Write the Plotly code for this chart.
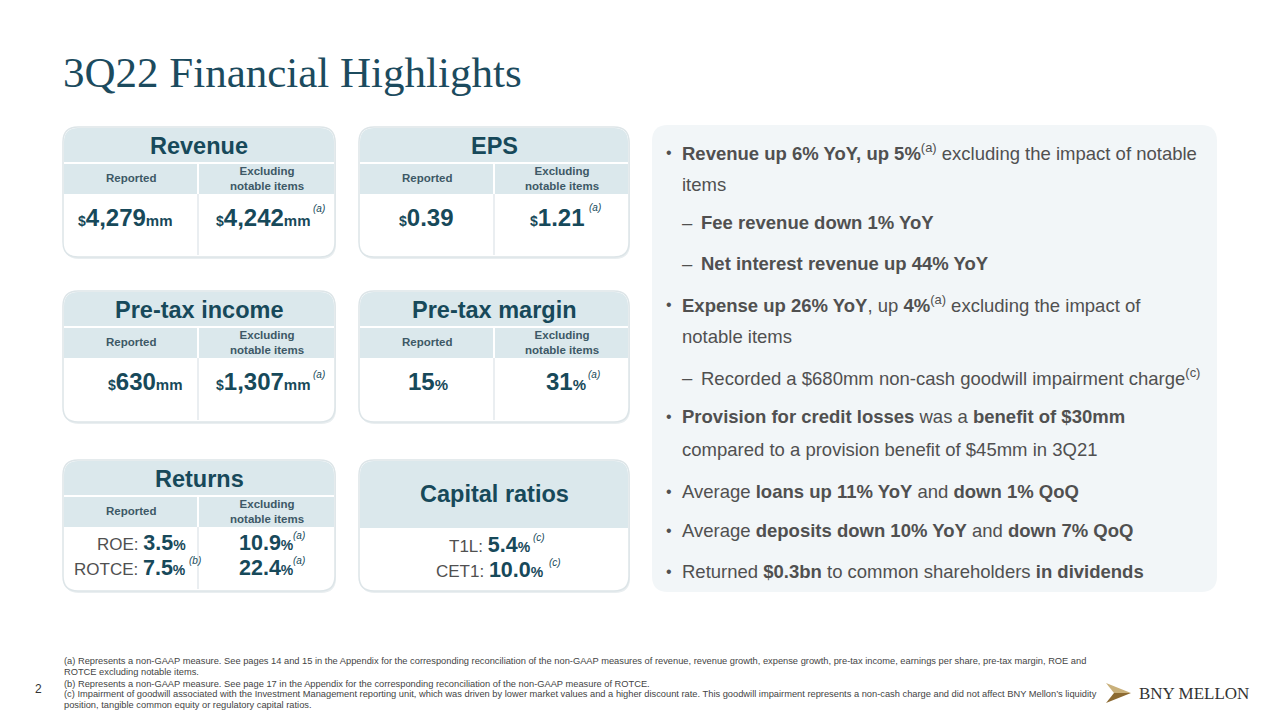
import plotly.graph_objects as go

# ---------------- data ----------------
slide_title = "3Q22 Financial Highlights"
card_titles = ["Revenue", "EPS", "Pre-tax income", "Pre-tax margin"]
value_prefix = ["$", "$", "$", ""]
value_suffix = ["mm", "", "mm", "%"]
reported_values = ["4,279", "0.39", "630", "15"]
excluding_values = ["4,242", "1.21", "1,307", "31"]
excluding_notes = ["(a)", "(a)", "(a)", "(a)"]
col_headers = ["Reported", "Excluding<br>notable items"]

returns_title = "Returns"
returns_labels = ["ROE:", "ROTCE:"]
returns_reported = ["3.5", "7.5"]
returns_reported_notes = ["", "(b)"]
returns_excluding = ["10.9", "22.4"]
returns_excluding_notes = ["(a)", "(a)"]

capital_title = "Capital ratios"
capital_labels = ["T1L:", "CET1:"]
capital_values = ["5.4", "10.0"]
capital_notes = ["(c)", "(c)"]

bullet_lines = [
    ("•", "<b>Revenue up 6% YoY, up 5%</b><sup>(a)</sup> excluding the impact of notable"),
    ("", "items"),
    ("–", "<b>Fee revenue down 1% YoY</b>"),
    ("–", "<b>Net interest revenue up 44% YoY</b>"),
    ("•", "<b>Expense up 26% YoY</b>, up <b>4%</b><sup>(a)</sup> excluding the impact of"),
    ("", "notable items"),
    ("–", "Recorded a $680mm non-cash goodwill impairment charge<sup>(c)</sup>"),
    ("•", "<b>Provision for credit losses</b> was a <b>benefit of $30mm</b>"),
    ("", "compared to a provision benefit of $45mm in 3Q21"),
    ("•", "Average <b>loans up 11% YoY</b> and <b>down 1% QoQ</b>"),
    ("•", "Average <b>deposits down 10% YoY</b> and <b>down 7% QoQ</b>"),
    ("•", "Returned <b>$0.3bn</b> to common shareholders <b>in dividends</b>"),
]

footnotes = [
    "(a) Represents a non-GAAP measure. See pages 14 and 15 in the Appendix for the corresponding reconciliation of the non-GAAP measures of revenue, revenue growth, expense growth, pre-tax income, earnings per share, pre-tax margin, ROE and",
    "ROTCE excluding notable items.",
    "(b) Represents a non-GAAP measure. See page 17 in the Appendix for the corresponding reconciliation of the non-GAAP measure of ROTCE.",
    "(c) Impairment of goodwill associated with the Investment Management reporting unit, which was driven by lower market values and a higher discount rate. This goodwill impairment represents a non-cash charge and did not affect BNY Mellon’s liquidity",
    "position, tangible common equity or regulatory capital ratios.",
]
page_number = "2"
brand = "BNY MELLON"

# ---------------- style / layout ----------------
TEAL = "#17495a"
HEAD = "#dbe8ec"
SUBTXT = "#3d5866"
GRAY = "#505050"
SANS = "Liberation Sans, Arial, sans-serif"
SERIF = "Liberation Serif, Times New Roman, serif"
BIG = 24
SMALL = 15
RBIG = 21.5
TITLE_SIZE = 23.5
SUB_SIZE = 11.5
BULLET_SIZE = 18.5

shapes = []
annotations = []


def rr_path(x0, y0, x1, y1, r, top=True, bottom=True):
    rt = r if top else 0
    rb = r if bottom else 0
    p = f"M {x0+rt},{y0} L {x1-rt},{y0} "
    p += f"Q {x1},{y0} {x1},{y0+rt} " if rt else ""
    p += f"L {x1},{y1-rb} "
    p += f"Q {x1},{y1} {x1-rb},{y1} " if rb else ""
    p += f"L {x0+rb},{y1} "
    p += f"Q {x0},{y1} {x0},{y1-rb} " if rb else ""
    p += f"L {x0},{y0+rt} "
    p += f"Q {x0},{y0} {x0+rt},{y0} " if rt else ""
    return p + "Z"


def add_shape(path, fill, line=None, width=0):
    shapes.append(dict(type="path", path=path, xref="x", yref="y", fillcolor=fill,
                       line=dict(color=line or fill, width=width), layer="below"))


def text(x, y, s, size, color, family=SANS, xa="center", ya="middle"):
    annotations.append(dict(x=x, y=y, xref="x", yref="y", text=s, showarrow=False,
                            xanchor=xa, yanchor=ya,
                            font=dict(size=size, color=color, family=family)))


def card_frame(x0, y0, x1, y1, r=15):
    add_shape(rr_path(x0 + 1, y0 + 2, x1 + 1, y1 + 2, r), "#e9eef0")
    add_shape(rr_path(x0, y0, x1, y1, r), "white", "#dde5e8", 1.5)


def val_html(prefix, val, suffix, small=SMALL):
    s = ""
    if prefix:
        s += f"<span style='font-size:{small - 1}px'><b>{prefix}</b></span>"
    s += f"<b>{val}</b>"
    if suffix:
        s += f"<span style='font-size:{small}px'><b>{suffix}</b></span>"
    return s


def sup(x, y, s, size=10):
    text(x, y, f"<i>{s}</i>", size, TEAL, xa="left")


col_x = [(63, 335), (359, 629)]
row_y = [(127, 257), (291, 422), (460, 591)]
div_x = [198, 494]

rep_x = [125, 426, 145, 428]
exc_x = [263, 557, 263, 566]
exc_sup = [(311, 208), (587, 207), (311, 374), (586, 374)]


def header(cx0, cx1, cy0, dx):
    add_shape(rr_path(cx0 + 1, cy0 + 1, cx1 - 1, cy0 + 35, 14, bottom=False), HEAD)
    add_shape(rr_path(cx0 + 1, cy0 + 37, dx - 1, cy0 + 67, 0), HEAD)
    add_shape(rr_path(dx + 1, cy0 + 37, cx1 - 1, cy0 + 67, 0), HEAD)
    text((cx0 + dx) / 2, cy0 + 51, f"<b>{col_headers[0]}</b>", SUB_SIZE, SUBTXT)
    text((dx + cx1) / 2, cy0 + 51, f"<b>{col_headers[1]}</b>", SUB_SIZE, SUBTXT)


# four standard cards
for i, t in enumerate(card_titles):
    cx0, cx1 = col_x[i % 2]
    cy0, cy1 = row_y[i // 2]
    dx = div_x[i % 2]
    card_frame(cx0, cy0, cx1, cy1)
    header(cx0, cx1, cy0, dx)
    shapes.append(dict(type="line", x0=dx, x1=dx, y0=cy0 + 67, y1=cy1 - 2, xref="x", yref="y",
                       line=dict(color="#e3e9ec", width=1.5)))
    text((cx0 + cx1) / 2, cy0 + 19, f"<b>{t}</b>", TITLE_SIZE, TEAL)
    vy = cy0 + 90
    text(rep_x[i], vy, val_html(value_prefix[i], reported_values[i], value_suffix[i]), BIG, TEAL)
    text(exc_x[i], vy, val_html(value_prefix[i], excluding_values[i], value_suffix[i]), BIG, TEAL)
    sx, sy = exc_sup[i]
    sup(sx, sy, excluding_notes[i])

# returns card
cx0, cx1 = col_x[0]
cy0, cy1 = row_y[2]
dx = div_x[0]
card_frame(cx0, cy0, cx1, cy1)
header(cx0, cx1, cy0, dx)
shapes.append(dict(type="line", x0=dx, x1=dx, y0=cy0 + 67, y1=cy1 - 2, xref="x", yref="y",
                   line=dict(color="#e3e9ec", width=1.5)))
text((cx0 + cx1) / 2, cy0 + 19, f"<b>{returns_title}</b>", TITLE_SIZE, TEAL)
ret_y = [543, 568]
for j in range(2):
    lab = f"<span style='color:{GRAY};font-size:17px'>{returns_labels[j]} </span>"
    text(188, ret_y[j], lab + val_html("", returns_reported[j], "%", 14), RBIG, TEAL, xa="right")
    if returns_reported_notes[j]:
        sup(187, ret_y[j] - 8, returns_reported_notes[j])
    text(266, ret_y[j], val_html("", returns_excluding[j], "%", 14), RBIG, TEAL)
    sup(291, ret_y[j] - 8, returns_excluding_notes[j])

# capital ratios card
cx0, cx1 = col_x[1]
card_frame(cx0, cy0, cx1, cy1)
add_shape(rr_path(cx0 + 1, cy0 + 1, cx1 - 1, cy0 + 68, 14, bottom=False), HEAD)
text((cx0 + cx1) / 2, cy0 + 34, f"<b>{capital_title}</b>", TITLE_SIZE, TEAL)
cap_y = [545, 570]
cap_sup_x = [531, 547]
for j in range(2):
    lab = f"<span style='color:{GRAY};font-size:17px'>{capital_labels[j]} </span>"
    text(490, cap_y[j], lab + val_html("", capital_values[j], "%", 14), RBIG, TEAL)
    sup(cap_sup_x[j], cap_y[j] - 8, capital_notes[j])

# right-hand panel
add_shape(rr_path(652, 125, 1217, 592, 16), "#f2f6f8")
line_y = [152, 184, 222, 263, 304, 336, 377, 416, 449, 491, 530, 571]
for (mark, s), y in zip(bullet_lines, line_y):
    if mark == "–":
        text(680, y, "–", BULLET_SIZE, GRAY, xa="left")
        text(699, y, s, BULLET_SIZE, GRAY, xa="left")
    else:
        if mark:
            text(664, y, mark, 16, GRAY, xa="left")
        text(680, y, s, BULLET_SIZE, GRAY, xa="left")

# title
text(61, 72, slide_title, 43, "#1c4b5e", family=SERIF, xa="left")

# footnotes
foot_y = [661, 672, 684, 694, 705]
for s, y in zip(footnotes, foot_y):
    text(62, y, s, 9.3, "#444444", xa="left")
text(38, 689, page_number, 12, "#333333")

# logo
add_shape("M 1106,683 L 1131,693 L 1114,693 Z", "#c9b07a")
add_shape("M 1114,693 L 1131,693 L 1106,703 Z", "#8c6a32")
text(1137, 693, brand, 17, "#333333", family=SERIF, xa="left")

# page has an 8px body margin: shift the axes so data coords equal screen pixels
fig = go.Figure()
fig.update_layout(
    width=1272, height=712,
    margin=dict(l=0, r=0, t=0, b=0),
    paper_bgcolor="white", plot_bgcolor="white",
    xaxis=dict(range=[8, 1280], visible=False, fixedrange=True),
    yaxis=dict(range=[720, 8], visible=False, fixedrange=True),
    shapes=shapes, annotations=annotations, showlegend=False,
)
fig.write_html("out.html", config={"displayModeBar": False})
